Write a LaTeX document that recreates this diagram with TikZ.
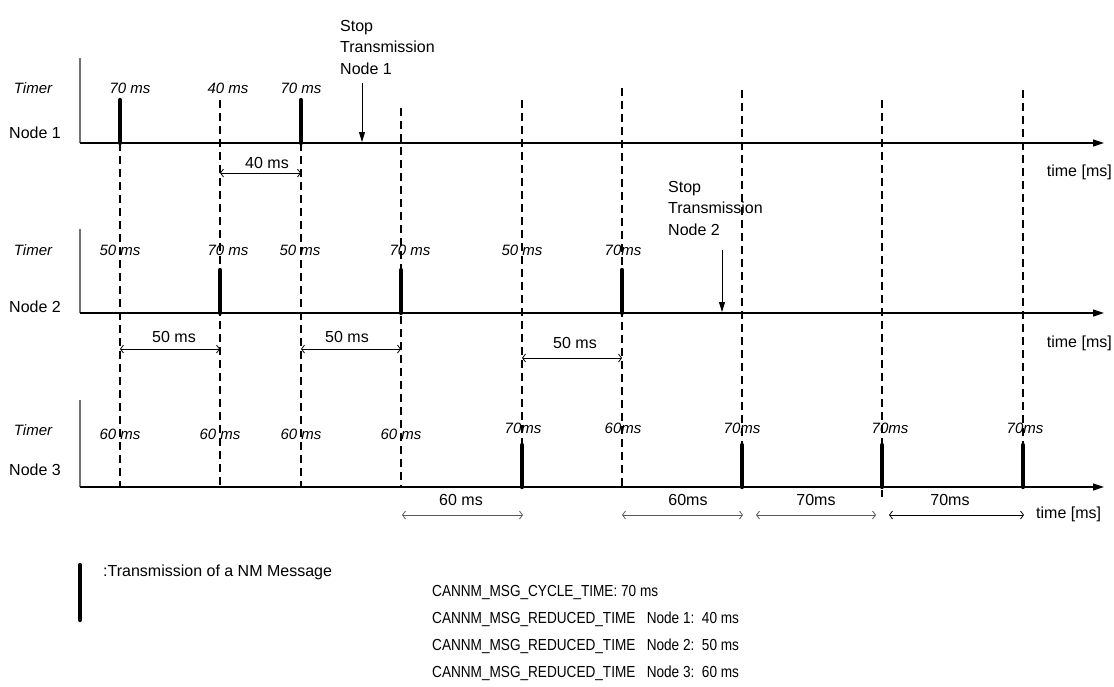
\documentclass[tikz,border=0pt]{standalone}
\usepackage{fontspec}
\setmainfont{Liberation Sans}
\newfontfamily\condfont[FakeStretch=0.85]{Liberation Sans}
\usetikzlibrary{arrows.meta}

\begin{document}
\begin{tikzpicture}[x=1pt,y=-1pt,
    every node/.style={font=\fontsize{16}{21.5}\selectfont,inner sep=0pt},
    axis/.style={-{Triangle[length=11pt,width=7pt]},line width=1.2pt},
    frame/.style={draw=black!55,line width=1.4pt},
    tick/.style={line width=1.8pt,dash pattern=on 8pt off 5pt},
    msg/.style={line width=4.2pt,line cap=round},
    dim/.style={{Straight Barb[length=3pt,width=8pt]}-{Straight Barb[length=3pt,width=8pt]},line width=0.8pt},
    stop/.style={-{Triangle[length=10pt,width=6pt]},line width=0.9pt},
    timer/.style={font=\fontsize{15}{18}\selectfont\itshape},
    unit/.style={font=\fontsize{16}{19}\selectfont},
    cond/.style={font=\fontsize{16}{19}\condfont}
]
\useasboundingbox (0,0) rectangle (1114,686);

% time axes
\coordinate (a1s) at (80,143);  \coordinate (a1e) at (1104,143);
\coordinate (a2s) at (80,313);  \coordinate (a2e) at (1104,313);
\coordinate (a3s) at (80,487);  \coordinate (a3e) at (1104,487);
\draw[frame] (80,58) -- (a1s);
\draw[frame] (80,229) -- (a2s);
\draw[frame] (80,400) -- (a3s);
\draw[axis] (a1s) -- (a1e);
\draw[axis] (a2s) -- (a2e);
\draw[axis] (a3s) -- (a3e);

% dashed timer lines
\foreach \x/\top/\bot in {120/143/487,220/100/487,301/143/487,401/108/487,
    522/100/445,622/88/487,742/90/445,882/100/497,1023/90/445}
  \draw[tick] (\x,\top) -- (\x,\bot);

% NM messages
\foreach \x in {120,301} \draw[msg] (\x,100) -- (\x,143);
\foreach \x in {220,401,622} \draw[msg] (\x,270) -- (\x,313);
\foreach \x in {522,742,882,1023} \draw[msg] (\x,445) -- (\x,487);

% row labels
\foreach \y/\n in {88/t1,250/t2,430/t3} \node[timer] (\n) at (33,\y) {Timer};
\node (node1) at (35,133) {Node 1};
\node (node2) at (35,307) {Node 2};
\node (node3) at (35,470) {Node 3};

% timer values
\foreach \x/\t in {130/70 ms,228/40 ms,301/70 ms}
  \node[timer] at (\x,88) {\t};
\foreach \x/\t in {120/50 ms,228/70 ms,300/50 ms,410/70 ms,522/50 ms,623/70ms}
  \node[timer] at (\x,250) {\t};
\foreach \x/\t in {120/60 ms,220/60 ms,301/60 ms,401/60 ms}
  \node[timer] at (\x,434) {\t};
\foreach \x/\t in {523/70ms,623/60ms,742/70ms,890/70ms,1025/70ms}
  \node[timer] at (\x,428) {\t};

\node[unit,anchor=east] (tm1) at (1112,172) {time [ms]};
\node[unit,anchor=east] (tm2) at (1112,343) {time [ms]};
\node[unit,anchor=west] (tm3) at (1036,514) {time [ms]};

% intervals
\draw[dim] (220,173) -- (301,173);
\node at (267,163) {40 ms};
\draw[dim] (120,349) -- (220,349);
\node at (174,337) {50 ms};
\draw[dim] (301,349) -- (401,349);
\node at (347,337) {50 ms};
\draw[dim] (522,358) -- (622,358);
\node at (575,343) {50 ms};
\draw[dim,draw=black!65] (402,515) -- (523,515);
\node at (461,500) {60 ms};
\draw[dim,draw=black!65] (622,515) -- (743,515);
\node at (688,500) {60ms};
\draw[dim,draw=black!65] (756,515) -- (876,515);
\node at (816,500) {70ms};
\draw[dim] (889,515) -- (1024,515);
\node at (950,500) {70ms};

% stop transmission
\node[anchor=north west,align=left] (stop1) at (340,20) {Stop\\Transmission\\Node 1};
\coordinate (s1a) at (362,83); \coordinate (s1b) at (362,142);
\draw[stop] (s1a) -- (s1b);
\node[anchor=north west,align=left] (stop2) at (668,181) {Stop\\Transmission\\Node 2};
\coordinate (s2a) at (722,250); \coordinate (s2b) at (722,312);
\draw[stop] (s2a) -- (s2b);

% legend
\coordinate (l1) at (80,565); \coordinate (l2) at (80,620);
\draw[msg] (l1) -- (l2);
\node[anchor=west] (leg) at (103,572) {:Transmission of a NM Message};
\node[cond,anchor=west] (p1) at (432,592) {CANNM\_MSG\_CYCLE\_TIME: 70 ms};
\node[cond,anchor=west] (p2) at (432,619) {CANNM\_MSG\_REDUCED\_TIME\ \ \ Node 1:\ \ 40 ms};
\node[cond,anchor=west] (p3) at (432,646) {CANNM\_MSG\_REDUCED\_TIME\ \ \ Node 2:\ \ 50 ms};
\node[cond,anchor=west] (p4) at (432,673) {CANNM\_MSG\_REDUCED\_TIME\ \ \ Node 3:\ \ 60 ms};
\end{tikzpicture}
\end{document}
